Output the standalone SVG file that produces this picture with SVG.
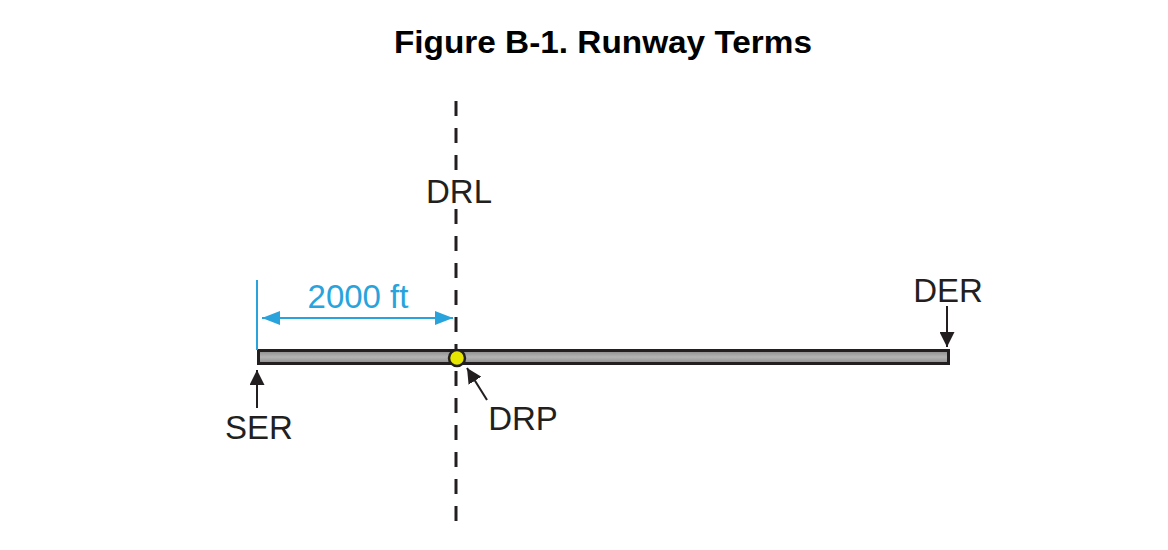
<svg xmlns="http://www.w3.org/2000/svg" width="1168" height="550" viewBox="0 0 1168 550">
<defs>
<style>
.lbl{font-family:"Liberation Sans",Arial,sans-serif;font-size:33px;fill:#231f20}
.blue{font-family:"Liberation Sans",Arial,sans-serif;font-size:33px;fill:#29a3dc}
.title{font-family:"Liberation Sans",Arial,sans-serif;font-size:31px;font-weight:bold;fill:#000}
.ptr{stroke:#231f20;stroke-width:2;fill:none}
</style>
<marker id="ah" markerWidth="15" markerHeight="15" refX="15" refY="7.5" orient="auto" markerUnits="userSpaceOnUse" viewBox="0 0 15 15">
<path d="M0,0 L15,7.5 L0,15 Z" fill="#231f20"/>
</marker>
<marker id="bh" markerWidth="18" markerHeight="14" refX="18" refY="7" orient="auto-start-reverse" markerUnits="userSpaceOnUse" viewBox="0 0 18 14">
<path d="M0,0 L18,7 L0,14 Z" fill="#29a3dc"/>
</marker>
<linearGradient id="rg" x1="0" y1="0" x2="0" y2="1">
<stop offset="0" stop-color="#8a8a8a"/>
<stop offset="0.5" stop-color="#b4b4b4"/>
<stop offset="1" stop-color="#8a8a8a"/>
</linearGradient>
</defs>
<rect width="1168" height="550" fill="#fff"/>
<text class="title" x="603" y="53" text-anchor="middle" textLength="418" lengthAdjust="spacingAndGlyphs">Figure B-1. Runway Terms</text>

<g id="drl">
<line x1="456" y1="101" x2="456" y2="522" stroke="#231f20" stroke-width="3" stroke-dasharray="15 12"/>
<rect x="424" y="176" width="70" height="30" fill="#fff"/>
<text class="lbl" x="459" y="203" text-anchor="middle">DRL</text>
</g>

<g id="runway">
<rect x="258.5" y="350.5" width="690" height="13" fill="url(#rg)" stroke="#231f20" stroke-width="3"/>
</g>

<g id="drp-point">
<circle cx="457" cy="358" r="8" fill="#e6e600" stroke="#231f20" stroke-width="2.5"/>
</g>

<g id="dimension">
<line x1="257" y1="280" x2="257" y2="350" stroke="#29a3dc" stroke-width="2"/>
<text class="blue" x="358" y="308" text-anchor="middle">2000 ft</text>
</g>

<g id="ser">
<text class="lbl" x="259" y="439" text-anchor="middle">SER</text>
</g>
<g id="der">
<text class="lbl" x="948" y="302" text-anchor="middle">DER</text>
</g>
<g id="drp">
<text class="lbl" x="523" y="430" text-anchor="middle">DRP</text>
</g>

<g id="connectors">
<line x1="262" y1="318" x2="453" y2="318" stroke="#29a3dc" stroke-width="2" marker-start="url(#bh)" marker-end="url(#bh)"/>
<line class="ptr" x1="257" y1="408" x2="257" y2="370" marker-end="url(#ah)"/>
<line class="ptr" x1="947" y1="306" x2="947" y2="347" marker-end="url(#ah)"/>
<line class="ptr" x1="487" y1="400" x2="467" y2="368" marker-end="url(#ah)"/>
</g>
</svg>
